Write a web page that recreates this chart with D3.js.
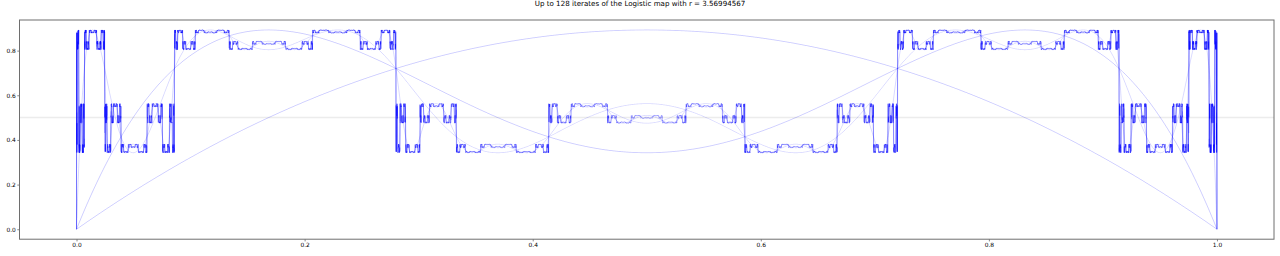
<!DOCTYPE html>
<html><head><meta charset="utf-8">
<script src="https://cdn.jsdelivr.net/npm/d3@7"></script>
<style>html,body{margin:0;padding:0;background:#fff;overflow:hidden}</style>
</head><body>
<svg id="c" width="1280" height="256"></svg>
<script>
// ---- chart inputs ----
const rValue = [3.56994567];
const iterateCounts = [1, 2, 4, 8, 16, 32, 64, 128];
const sampleCount = [10000];
const xDomain = [0, 1];
const xTickValues = [0, 0.2, 0.4, 0.6, 0.8, 1.0];
const yTickValues = [0, 0.2, 0.4, 0.6, 0.8];
const guideLevel = [0.5];
const titleText = ["Up to 128 iterates of the Logistic map with r = 3.56994567"];

// ---- series (iterates of the logistic map named in the title) ----
const r = rValue[0];
const N = sampleCount[0];
const xs = d3.range(N).map(i => xDomain[0] + (xDomain[1] - xDomain[0]) * i / (N - 1));
const series = iterateCounts.map(n => xs.map(x0 => {
  let v = x0;
  for (let k = 0; k < n; k++) v = r * v * (1 - v);
  return [x0, v];
}));

const svg = d3.select("#c");
const L = 19.5, R = 1274, T = 20, B = 239.2;
const ymin = d3.min(series, s => d3.min(s, d => d[1]));
const ymax = d3.max(series, s => d3.max(s, d => d[1]));
const yr = ymax - ymin;
const x = d3.scaleLinear().domain([xDomain[0] - 0.05, xDomain[1] + 0.05]).range([L, R]);
const y = d3.scaleLinear().domain([ymin - 0.05 * yr, ymax + 0.05 * yr]).range([B, T]);

// guide line
svg.append("line")
  .attr("x1", L).attr("x2", R)
  .attr("y1", y(guideLevel[0])).attr("y2", y(guideLevel[0]))
  .attr("stroke", "#808080").attr("stroke-opacity", 0.15).attr("stroke-width", 1.5);

const line = d3.line().x(d => x(d[0])).y(d => y(d[1]));
svg.append("g").selectAll("path").data(series).join("path")
  .attr("d", line)
  .attr("fill", "none")
  .attr("stroke", "#0000ff")
  .attr("stroke-opacity", (d, i) => i < 2 ? 0.2 : 0.15)
  .attr("stroke-width", 1)
  .attr("stroke-linejoin", "round");

// axes
const fmt = d3.format(".1f");
const xAxis = d3.axisBottom(x).tickValues(xTickValues).tickFormat(fmt).tickSize(2.2).tickPadding(1.5);
const yAxis = d3.axisLeft(y).tickValues(yTickValues).tickFormat(fmt).tickSize(2.2).tickPadding(1.5);
const gx = svg.append("g").attr("transform", `translate(0,${B})`).call(xAxis);
const gy = svg.append("g").attr("transform", `translate(${L},0)`).call(yAxis);
[gx, gy].forEach(g => {
  g.select(".domain").remove();
  g.selectAll(".tick line").attr("stroke", "#555").attr("stroke-width", 0.7);
  g.selectAll(".tick text").attr("fill", "#000").style("font-family", "DejaVu Sans").style("font-size", "5.9px");
});

// frame
svg.append("rect").attr("x", L).attr("y", T).attr("width", R - L).attr("height", B - T)
  .attr("fill", "none").attr("stroke", "#6e6e6e").attr("stroke-width", 1);

// title
svg.append("text").attr("x", 640).attr("y", 5.8).attr("text-anchor", "middle")
  .style("font-family", "DejaVu Sans").style("font-size", "7.1px").attr("fill", "#000")
  .text(titleText[0]);
</script>
</body></html>
